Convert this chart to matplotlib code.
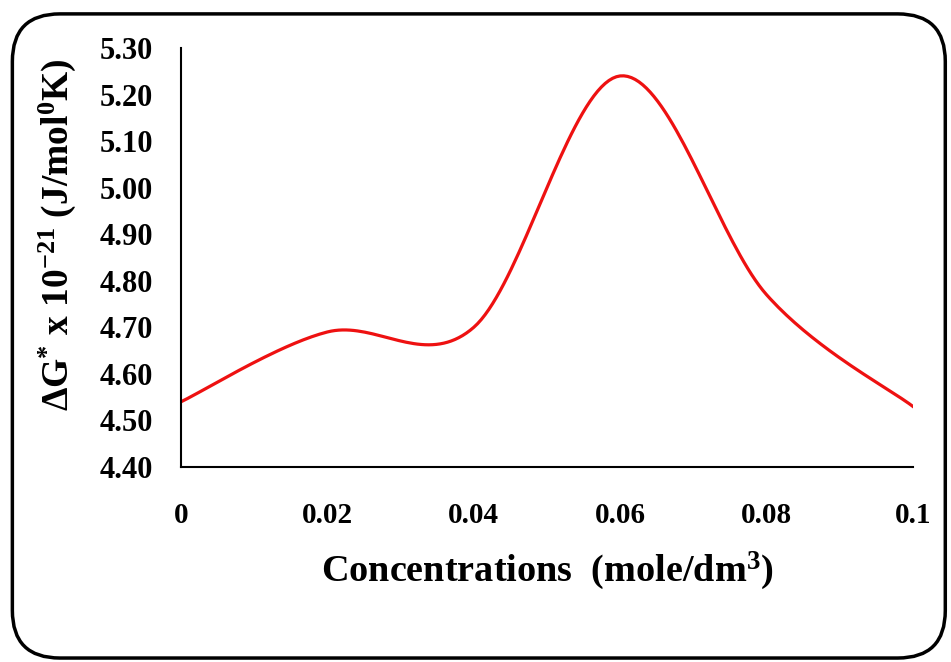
import numpy as np
import matplotlib
matplotlib.use('Agg')
import matplotlib.pyplot as plt
from matplotlib.patches import FancyBboxPatch

conc = [0.0, 0.02, 0.04, 0.06, 0.08, 0.1]
dg = [4.54, 4.69, 4.70, 5.24, 4.77, 4.53]
yticks = [4.40, 4.50, 4.60, 4.70, 4.80, 4.90, 5.00, 5.10, 5.20, 5.30]
xticks = [0, 0.02, 0.04, 0.06, 0.08, 0.1]
xticklabels = ['0', '0.02', '0.04', '0.06', '0.08', '0.1']

plt.rcParams['font.family'] = 'Liberation Serif'
plt.rcParams['font.weight'] = 'bold'
plt.rcParams['mathtext.fontset'] = 'custom'
plt.rcParams['mathtext.rm'] = 'Liberation Serif:bold'
plt.rcParams['mathtext.it'] = 'Liberation Serif:bold'
plt.rcParams['mathtext.bf'] = 'Liberation Serif:bold'


def smooth(xs, ys, n=40):
    # excel-like smoothed line (catmull-rom in x and y)
    p = np.column_stack([xs, ys]).astype(float)
    sx = (xs[-1] - xs[0])
    sy = (max(ys) - min(ys))
    p[:, 0] /= sx
    p[:, 1] /= sy
    ext = np.vstack([p[0], p, p[-1]])
    out = []
    for i in range(1, len(ext) - 2):
        p0, p1, p2, p3 = ext[i - 1], ext[i], ext[i + 1], ext[i + 2]
        m1 = (p2 - p0) / 2
        m2 = (p3 - p1) / 2
        t = np.linspace(0, 1, n)[:, None]
        h00 = 2 * t**3 - 3 * t**2 + 1
        h10 = t**3 - 2 * t**2 + t
        h01 = -2 * t**3 + 3 * t**2
        h11 = t**3 - t**2
        out.append(h00 * p1 + h10 * m1 + h01 * p2 + h11 * m2)
    c = np.vstack(out)
    return c[:, 0] * sx, c[:, 1] * sy


fig = plt.figure(figsize=(9.51, 6.62), dpi=100)
border = FancyBboxPatch((0.013, 0.006), 0.981, 0.973, boxstyle='round,pad=0,rounding_size=0.05',
                        transform=fig.transFigure, fill=False, edgecolor='black', linewidth=2.5,
                        mutation_aspect=951 / 662)
fig.patches.append(border)

ax = fig.add_axes([0.1903, 0.2946, 0.7697, 0.6329])
sx, sy = smooth(conc, dg)
ax.plot(sx, sy, color='#ee1111', linewidth=2.3)
ax.set_xlim(0, 0.1)
ax.set_ylim(4.40, 5.30)
ax.set_xticks(xticks)
ax.set_xticklabels(xticklabels)
ax.set_yticks(yticks)
ax.set_yticklabels(['%.2f' % v for v in yticks])
ax.tick_params(length=0)
ax.tick_params(axis='x', pad=25, labelsize=21)
ax.tick_params(axis='y', pad=20, labelsize=22)
for s in ['top', 'right']:
    ax.spines[s].set_visible(False)
for s in ['left', 'bottom']:
    ax.spines[s].set_linewidth(1.5)

ax.set_xlabel('Concentrations  (mole/dm$^{3}$)', fontsize=27.5, fontweight='bold')
ax.set_ylabel(r'$\Delta$G$^{*}$ x 10$^{-21}$ (J/mol$^{0}$K)', fontsize=27, fontweight='bold')
ax.xaxis.set_label_coords(0.5, -0.197)
ax.yaxis.set_label_coords(-0.14, 0.555)

fig.savefig('out.png', dpi=100)
